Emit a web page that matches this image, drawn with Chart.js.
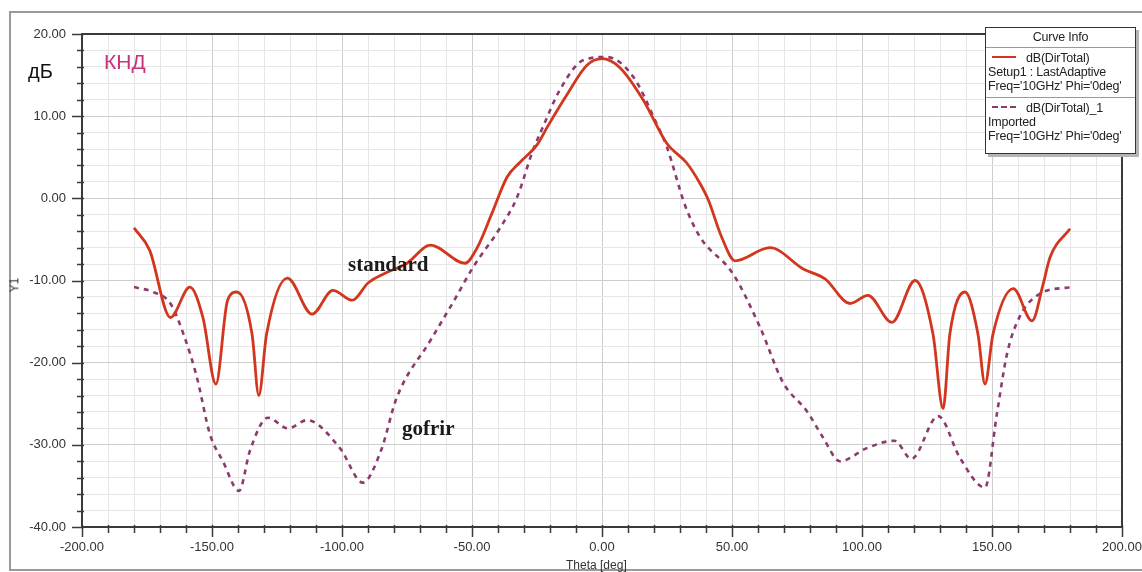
<!DOCTYPE html>
<html>
<head>
<meta charset="utf-8">
<script src="https://cdn.jsdelivr.net/npm/chart.js@4.4.1/dist/chart.umd.min.js"></script>
<style>
    body { margin: 0; background: #fff; }
    #wrap { position: relative; width: 1142px; height: 572px; font-family: "Liberation Sans", Arial, sans-serif; }
    #frame { position: absolute; left: 9px; top: 11px; width: 1140px; height: 556px; border: 2px solid #9a9a9a; border-right: none; }
    canvas { position: absolute; left: 0; top: 0; }
    .lbl { position: absolute; white-space: nowrap; }
    .serif { font-family: "Liberation Serif", "DejaVu Serif", serif; font-weight: bold; font-size: 21px; color: #1a1a1a; }
    #legend { position: absolute; left: 985px; top: 27px; width: 149px; height: 125px; background: #fff; border: 1px solid #333;
        box-shadow: 3px 3px 0 #b5b5b5; font-size: 12.5px; color: #222; letter-spacing: -0.2px; }
    #legend .head { height: 19px; line-height: 19px; text-align: center; border-bottom: 1px solid #999; }
    #legend .entry { padding: 3px 2px 0 2px; line-height: 14px; }
    #legend .entry + .entry { border-top: 1px solid #999; }
    .sample { display: inline-block; width: 24px; margin: 0 10px 3px 4px; vertical-align: middle; }
</style>
</head>
<body>
<div id="wrap">
    <div id="frame"></div>
    <canvas id="chart" width="1142" height="572"></canvas>
    <div class="lbl" style="left:28px;top:60px;font-size:20px;color:#111;">дБ</div>
    <div class="lbl" style="left:104px;top:50px;font-size:21px;color:#c9327e;">КНД</div>
    <div class="lbl" style="left:7px;top:278px;font-size:12px;color:#333;transform:rotate(-90deg);">Y1</div>
    <div class="lbl" style="left:566px;top:558px;font-size:12px;color:#333;">Theta [deg]</div>
    <div class="lbl serif" style="left:348px;top:252px;">standard</div>
    <div class="lbl serif" style="left:402px;top:416px;">gofrir</div>
    <div id="legend">
        <div class="head">Curve Info</div>
        <div class="entry" style="height:46px;">
            <span class="sample" style="border-top:2px solid #d2361e;"></span>dB(DirTotal)<br>
            Setup1 : LastAdaptive<br>
            Freq='10GHz' Phi='0deg'
        </div>
        <div class="entry">
            <span class="sample" style="border-top:2px dashed #8c3b6e;"></span>dB(DirTotal)_1<br>
            Imported<br>
            Freq='10GHz' Phi='0deg'
        </div>
    </div>
</div>
<script>
// standard (solid red)
const thetaStd = [-180, -174, -166, -158.5, -153.5, -148.5, -144, -140.4, -134.6, -132, -129, -121, -111.5, -103.5, -96,
    -90, -84, -75, -66, -52.7, -48, -42.3, -36.5, -31.5, -25, -21, -13.5, -5.8, 0, 6.9, 15.8, 24.9, 32.6, 37.7, 40.9,
    46, 51.2, 64.6, 77.4, 85.8, 95.4, 102.3, 111.5, 120.4, 127.3, 131.2, 133.8, 139.6, 144.6, 147.3, 150.4, 158.2,
    165.4, 169.7, 172.3, 180];
const dbStd = [-3.6, -6.3, -14.5, -10.8, -14.5, -22.6, -12.4, -11.4, -16.5, -24, -16.5, -9.7, -14.1, -11.2, -12.4,
    -10.3, -9.2, -7.9, -5.7, -7.9, -6, -1.8, 2.6, 4.4, 6.5, 8.7, 12.6, 16.2, 17.0, 15.9, 12.0, 6.7, 4.3, 1.8, -0.2,
    -4.7, -7.6, -6.0, -8.6, -9.8, -12.8, -11.8, -15.1, -10, -16.5, -25.6, -16.5, -11.4, -16.5, -22.6, -16.5, -11,
    -14.9, -10.4, -7.2, -3.7];

// gofrir (dashed)
const thetaGof = [-180, -172.7, -166, -161, -155.8, -150.8, -145.8, -139.6, -135.4, -128.5, -120.8, -113.5, -100.8,
    -92, -85, -79, -66, -57, -49.6, -39, -32.7, -26.5, -22.7, -16.2, -7.3, 1.8, 12, 21, 24.9, 32, 37.7, 50.4, 60.8,
    69.6, 78.8, 85, 91.5, 101.9, 112.5, 119, 129.3, 137.7, 147.3, 151.9, 155.8, 160.8, 168.5, 180];
const dbGof = [-10.8, -11.4, -12.8, -16.5, -21.8, -28.7, -32, -35.6, -30.7, -26.7, -28.0, -27, -30.4,
    -34.6, -30.7, -24.3, -17.3, -12.5, -8.4, -3.5, 0.1, 5.9, 8.7, 13.2, 16.8, 17.2, 14.8, 9.1, 6.3, -0.9, -4.7, -9.2,
    -15.7, -22.4, -25.9, -29.1, -32, -30.4, -29.5, -31.7, -26.5, -31.6, -35.2, -26.2, -18.9, -14.3, -11.6, -10.8];

const xTicks = { min: -200, max: 200, step: 10, major: 50 };
const yTicks = { min: -40, max: 20, step: 2, major: 10 };

const toPts = (xs, ys) => xs.map((x, i) => ({ x: x, y: ys[i] }));

// frame + tick marks drawn from the scales
const axisMarks = {
    id: 'axisMarks',
    afterDraw(chart) {
        const ctx = chart.ctx, a = chart.chartArea;
        const sx = chart.scales.x, sy = chart.scales.y;
        ctx.save();
        ctx.strokeStyle = '#3a3a3a';
        ctx.lineWidth = 1.5;
        for (let v = xTicks.min; v <= xTicks.max; v += xTicks.step) {
            const px = Math.round(sx.getPixelForValue(v)) + 0.5;
            const len = v % xTicks.major === 0 ? 10 : 6;
            ctx.beginPath(); ctx.moveTo(px, a.bottom - 2); ctx.lineTo(px, a.bottom + len); ctx.stroke();
        }
        for (let v = yTicks.min; v <= yTicks.max; v += yTicks.step) {
            const py = Math.round(sy.getPixelForValue(v)) + 0.5;
            const len = v % yTicks.major === 0 ? 10 : 5;
            ctx.beginPath(); ctx.moveTo(a.left - len, py); ctx.lineTo(a.left + 2, py); ctx.stroke();
        }
        ctx.lineWidth = 2;
        ctx.strokeRect(a.left, a.top, a.right - a.left, a.bottom - a.top);
        ctx.restore();
    }
};

new Chart(document.getElementById('chart'), {
    type: 'line',
    data: {
        datasets: [{
            label: 'standard',
            data: toPts(thetaStd, dbStd),
            borderColor: '#d2361e',
            borderWidth: 2.8,
            pointRadius: 0,
            cubicInterpolationMode: 'monotone'
        }, {
            label: 'gofrir',
            data: toPts(thetaGof, dbGof),
            borderColor: '#8c3b6e',
            borderWidth: 2.6,
            borderDash: [5, 5],
            pointRadius: 0,
            cubicInterpolationMode: 'monotone'
        }]
    },
    options: {
        responsive: false,
        animation: false,
        layout: { padding: { left: 0, right: 20, top: 34, bottom: 0 } },
        plugins: { legend: { display: false }, tooltip: { enabled: false } },
        scales: {
            x: {
                type: 'linear',
                min: xTicks.min, max: xTicks.max,
                afterFit: s => { s.height = 45; s.paddingLeft = 0; s.paddingRight = 0; },
                border: { display: false },
                grid: {
                    drawTicks: false,
                    color: c => c.tick.value % xTicks.major === 0 ? '#cdcdcd' : '#e6e6e6'
                },
                ticks: {
                    stepSize: xTicks.step,
                    autoSkip: false,
                    maxRotation: 0,
                    padding: 13,
                    color: '#333',
                    font: { family: 'Liberation Sans', size: 13 },
                    callback: v => v % xTicks.major === 0 ? v.toFixed(2) : ''
                }
            },
            y: {
                min: yTicks.min, max: yTicks.max,
                afterFit: s => { s.width = 82; s.paddingTop = 0; s.paddingBottom = 0; },
                border: { display: false },
                grid: {
                    drawTicks: false,
                    color: c => c.tick.value % yTicks.major === 0 ? '#cdcdcd' : '#e6e6e6'
                },
                ticks: {
                    stepSize: yTicks.step,
                    autoSkip: false,
                    padding: 16,
                    color: '#333',
                    font: { family: 'Liberation Sans', size: 13 },
                    callback: v => v % yTicks.major === 0 ? v.toFixed(2) : ''
                }
            }
        }
    },
    plugins: [axisMarks]
});
</script>
</body>
</html>
